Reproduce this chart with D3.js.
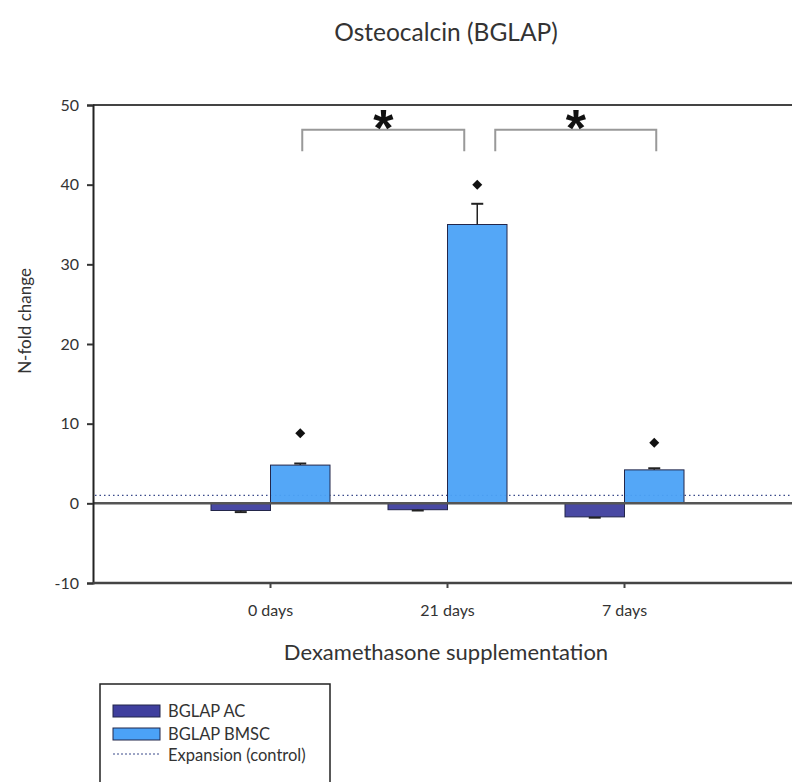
<!DOCTYPE html>
<html>
<head>
<meta charset="utf-8">
<script src="https://cdn.jsdelivr.net/npm/d3@7"></script>
<style>
  body { margin: 0; background: #fff; }
  text { font-family: Lato, "Open Sans", sans-serif; fill: #333; }
</style>
</head>
<body>
<div id="chart"></div>
<script>
// values
var categories = ['0 days', '21 days', '7 days'];
var seriesNames = ['BGLAP AC', 'BGLAP BMSC'];
var acValues = [-0.9, -0.8, -1.7];
var acErrors = [0.2, 0.1, 0.1];
var bmscValues = [4.8, 35.0, 4.2];
var bmscErrors = [0.2, 2.6, 0.2];
var markerValues = [8.8, 40.0, 7.6];
var controlLevel = 1;
var yTicks = [-10, 0, 10, 20, 30, 40, 50];
var brackets = [
  { from: '0 days', to: '21 days', low: 44.2, high: 46.9 },
  { from: '21 days', to: '7 days', low: 44.2, high: 46.9 }
];

var w = 792, h = 782;
var colors = { 'BGLAP AC': '#3f3f9e', 'BGLAP BMSC': '#4ba2f7' };

var svg = d3.select('#chart').append('svg')
  .attr('width', w)
  .attr('height', h);

var x = d3.scalePoint()
  .domain(categories)
  .range([93, 801])
  .padding(1);

var xSub = d3.scaleBand()
  .domain(seriesNames)
  .range([-59, 60]);

var y = d3.scaleLinear()
  .domain([-10, 50])
  .range([583, 105]);

// frame lines
svg.append('line')
  .attr('x1', 93).attr('x2', w)
  .attr('y1', y(50)).attr('y2', y(50))
  .attr('stroke', '#444').attr('stroke-width', 2);

// control dotted line
svg.append('line')
  .attr('x1', 95).attr('x2', w)
  .attr('y1', y(controlLevel)).attr('y2', y(controlLevel))
  .attr('stroke', '#3a4a8a').attr('stroke-width', 1.2)
  .attr('stroke-dasharray', '1.5,3');

// bars
var rows = categories.map(function(c, i) {
  return [
    { cat: c, name: 'BGLAP AC', value: acValues[i], err: acErrors[i] },
    { cat: c, name: 'BGLAP BMSC', value: bmscValues[i], err: bmscErrors[i] }
  ];
});
var flat = [].concat.apply([], rows);

svg.selectAll('.bar').data(flat).enter().append('rect')
  .attr('class', 'bar')
  .attr('x', function(d) { return x(d.cat) + xSub(d.name); })
  .attr('width', xSub.bandwidth())
  .attr('y', function(d) { return y(Math.max(0, d.value)); })
  .attr('height', function(d) { return Math.abs(y(d.value) - y(0)); })
  .attr('fill', function(d) { return colors[d.name]; })
  .attr('fill-opacity', 0.95)
  .attr('stroke', '#23264a')
  .attr('stroke-width', 1);

// error bars (one-sided, away from zero)
svg.selectAll('.err').data(flat).enter().append('g')
  .attr('class', 'err')
  .each(function(d) {
    var g = d3.select(this);
    var cx = x(d.cat) + xSub(d.name) + xSub.bandwidth() / 2;
    var end = d.value >= 0 ? d.value + d.err : d.value - d.err;
    g.append('line')
      .attr('x1', cx).attr('x2', cx)
      .attr('y1', y(d.value)).attr('y2', y(end))
      .attr('stroke', '#222').attr('stroke-width', 1.5);
    g.append('line')
      .attr('x1', cx - 6).attr('x2', cx + 6)
      .attr('y1', y(end)).attr('y2', y(end))
      .attr('stroke', '#222').attr('stroke-width', 2);
  });

// zero line
svg.append('line')
  .attr('x1', 93).attr('x2', w)
  .attr('y1', y(0)).attr('y2', y(0))
  .attr('stroke', '#555').attr('stroke-width', 2.5);

// significance diamonds
svg.selectAll('.mark').data(markerValues).enter().append('path')
  .attr('class', 'mark')
  .attr('d', d3.symbol().type(d3.symbolSquare).size(50))
  .attr('transform', function(d, i) {
    var cx = x(categories[i]) + xSub('BGLAP BMSC') + xSub.bandwidth() / 2;
    return 'translate(' + cx + ',' + y(d) + ') rotate(45)';
  })
  .attr('fill', '#111');

// brackets with asterisks
brackets.forEach(function(b, i) {
  var mid = xSub('BGLAP BMSC') + xSub.bandwidth() / 2;
  var x1 = x(b.from) + mid + (i === 0 ? 2 : 18);
  var x2 = x(b.to) + mid + (i === 0 ? -13 : 2);
  svg.append('path')
    .attr('d', 'M' + x1 + ',' + y(b.low) + 'V' + y(b.high) + 'H' + x2 + 'V' + y(b.low))
    .attr('fill', 'none')
    .attr('stroke', '#999')
    .attr('stroke-width', 2);
  svg.append('text')
    .attr('x', (x1 + x2) / 2)
    .attr('y', y(b.high) + 16)
    .attr('text-anchor', 'middle')
    .style('font-family', '"Liberation Sans", Arial, sans-serif')
    .style('font-size', '52px')
    .style('font-weight', 'bold')
    .style('fill', '#111')
    .text('*');
});

// y axis
var yAxis = svg.append('g')
  .attr('transform', 'translate(93,0)')
  .call(d3.axisLeft(y).tickValues(yTicks).tickSize(6).tickPadding(8)
    .tickFormat(function(d) { return String(d); }));
yAxis.select('.domain').attr('stroke', '#222').attr('stroke-width', 2);
yAxis.selectAll('.tick line').attr('stroke', '#333').attr('stroke-width', 2);
yAxis.selectAll('.tick text')
  .style('font-family', 'Lato, "Open Sans", sans-serif')
  .style('font-size', '16px').style('fill', '#333');

// x axis
var xAxis = svg.append('g')
  .attr('transform', 'translate(0,' + y(-10) + ')')
  .call(d3.axisBottom(x).tickSize(5).tickPadding(17));
xAxis.select('.domain').attr('stroke', '#444').attr('stroke-width', 2.5)
  .attr('d', 'M93,0H' + w);
xAxis.selectAll('.tick line').attr('stroke', '#444').attr('stroke-width', 2);
xAxis.selectAll('.tick text')
  .style('font-family', 'Lato, "Open Sans", sans-serif')
  .style('font-size', '16px').style('fill', '#333');

// titles
svg.append('text')
  .attr('x', 446).attr('y', 41)
  .attr('text-anchor', 'middle')
  .style('font-size', '24.5px')
  .text('Osteocalcin (BGLAP)');

svg.append('text')
  .attr('x', 446).attr('y', 660)
  .attr('text-anchor', 'middle')
  .style('font-size', '22px')
  .text('Dexamethasone supplementation');

svg.append('text')
  .attr('transform', 'translate(31,321) rotate(-90)')
  .attr('text-anchor', 'middle')
  .style('font-size', '17px')
  .text('N-fold change');

// legend
var legend = svg.append('g').attr('transform', 'translate(100,684)');
legend.append('rect')
  .attr('width', 230).attr('height', 120)
  .attr('fill', '#fff')
  .attr('stroke', '#222').attr('stroke-width', 1.5);

seriesNames.forEach(function(name, i) {
  legend.append('rect')
    .attr('x', 13).attr('y', 21 + i * 23)
    .attr('width', 47).attr('height', 12)
    .attr('fill', colors[name])
    .attr('stroke', '#23264a').attr('stroke-width', 1);
  legend.append('text')
    .attr('x', 68).attr('y', 33 + i * 23)
    .style('font-size', '16.5px')
    .text(name);
});
legend.append('line')
  .attr('x1', 13).attr('x2', 60)
  .attr('y1', 70).attr('y2', 70)
  .attr('stroke', '#3a4a8a').attr('stroke-width', 1)
  .attr('stroke-dasharray', '2,2');
legend.append('text')
  .attr('x', 68).attr('y', 77)
  .style('font-size', '16.5px')
  .text('Expansion (control)');
</script>
</body>
</html>
